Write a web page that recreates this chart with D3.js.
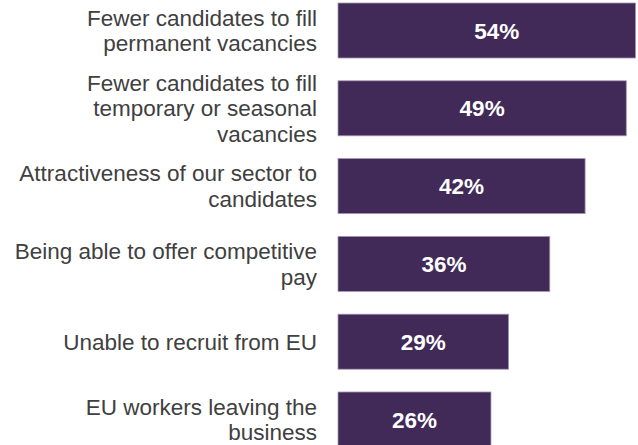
<!DOCTYPE html>
<html>
<head>
<meta charset="utf-8">
<script src="https://cdn.jsdelivr.net/npm/d3@7/dist/d3.min.js"></script>
<style>
  html, body { margin: 0; padding: 0; background: #ffffff; }
  svg { display: block; }
</style>
</head>
<body>
<svg id="chart" width="638" height="445"></svg>
<script>
// Reasons given for recruitment difficulty (share of respondents, %)
const categories = [
  "Fewer candidates to fill permanent vacancies",
  "Fewer candidates to fill temporary or seasonal vacancies",
  "Attractiveness of our sector to candidates",
  "Being able to offer competitive pay",
  "Unable to recruit from EU",
  "EU workers leaving the business"
];
const labelLines = [
  ["Fewer candidates to fill", "permanent vacancies"],
  ["Fewer candidates to fill", "temporary or seasonal", "vacancies"],
  ["Attractiveness of our sector to", "candidates"],
  ["Being able to offer competitive", "pay"],
  ["Unable to recruit from EU"],
  ["EU workers leaving the", "business"]
];
const values = [54, 49, 42, 36, 29, 26];

const W = 638, H = 445;
const barColor = "#412a58";
const textColor = "#404040";
const fontFamily = "'Liberation Sans', Arial, Helvetica, sans-serif";

const svg = d3.select("#chart");

const x = d3.scaleLinear().domain([0, 60]).range([338, 691]);
const y = d3.scaleBand()
  .domain(categories)
  .range([3, 447])
  .paddingInner(0.293)
  .paddingOuter(0);

// plot area ends just short of the right edge; longer bars are cut there
svg.append("defs").append("clipPath").attr("id", "plotClip")
  .append("rect").attr("x", 0).attr("y", 0).attr("width", 635.5).attr("height", H);

const rows = categories.map((c, i) => ({ cat: c, lines: labelLines[i], value: values[i] }));

svg.append("g").attr("clip-path", "url(#plotClip)")
  .selectAll("rect").data(rows).join("rect")
  .attr("x", x(0))
  .attr("y", d => y(d.cat))
  .attr("width", d => x(d.value) - x(0))
  .attr("height", y.bandwidth())
  .attr("fill", barColor)
  .attr("stroke", "#a496b4")
  .attr("stroke-width", 0.8);

// value labels, centred on each bar
svg.append("g").selectAll("text").data(rows).join("text")
  .attr("x", d => (x(0) + x(d.value)) / 2)
  .attr("y", d => y(d.cat) + y.bandwidth() / 2)
  .attr("dy", "0.36em")
  .attr("text-anchor", "middle")
  .attr("fill", "#ffffff")
  .attr("font-family", fontFamily)
  .attr("font-weight", "bold")
  .attr("font-size", 22.5)
  .text(d => d.value + "%");

// category labels, right-aligned and vertically centred on the bar
const lineH = 25.6;
const labelG = svg.append("g")
  .attr("font-family", fontFamily)
  .attr("font-size", 22.5)
  .attr("fill", textColor)
  .attr("text-anchor", "end");

rows.forEach(d => {
  const cy = y(d.cat) + y.bandwidth() / 2;
  const n = d.lines.length;
  const t = labelG.append("text").attr("x", 317);
  d.lines.forEach((ln, j) => {
    t.append("tspan")
      .attr("x", 317)
      .attr("y", cy + (j - (n - 1) / 2) * lineH)
      .attr("dy", "0.36em")
      .text(ln);
  });
});
</script>
</body>
</html>
